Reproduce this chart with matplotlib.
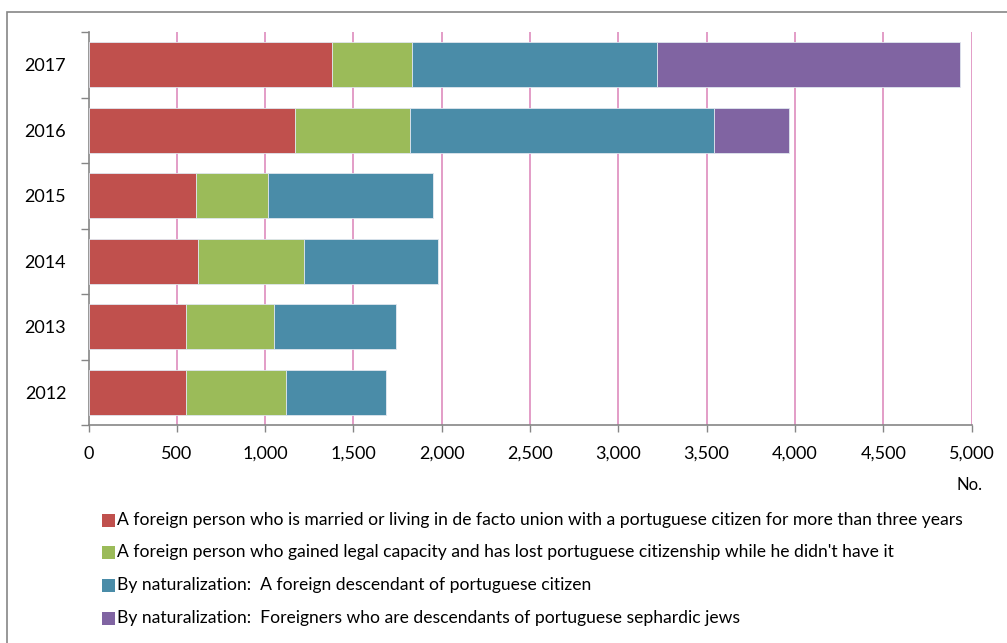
import matplotlib
matplotlib.use("Agg")
import matplotlib.pyplot as plt
from matplotlib.patches import Rectangle
import numpy as np

plt.rcParams['font.family'] = ['Lato', 'DejaVu Sans']

years = ['2012', '2013', '2014', '2015', '2016', '2017']
married = [553, 553, 621, 609, 1171, 1380]
legal_capacity = [565, 499, 601, 405, 650, 450]
descendant = [567, 689, 759, 935, 1721, 1389]
sephardic = [0, 0, 0, 0, 424, 1714]

series = [married, legal_capacity, descendant, sephardic]
labels = [
    "A foreign person who is married or living in de facto union with a portuguese citizen for more than three years",
    "A foreign person who gained legal capacity and has lost portuguese citizenship while he didn't have it",
    "By naturalization:  A foreign descendant of portuguese citizen",
    "By naturalization:  Foreigners who are descendants of portuguese sephardic jews",
]
colors = ['#C0504D', '#9BBB59', '#4A8CA8', '#8064A2']
xticks = [0, 500, 1000, 1500, 2000, 2500, 3000, 3500, 4000, 4500, 5000]

W, H = 1007, 643
fig = plt.figure(figsize=(W / 100, H / 100), dpi=100)
ax = fig.add_axes([88.5 / W, (H - 425) / H, (971.5 - 88.5) / W, (425 - 32) / H])

y = np.arange(len(years))
left = np.zeros(len(years))
for vals, col in zip(series, colors):
    vals = np.array(vals, dtype=float)
    ax.barh(y, vals, left=left, height=0.68, color=col,
            edgecolor='#dfe6ee', linewidth=0.6, zorder=3)
    left += vals

ax.set_xlim(0, 5000)
ax.set_ylim(-0.5, len(years) - 0.5)

# pink vertical gridlines
for xv in xticks[1:]:
    ax.axvline(xv, color='#DE8CBE', lw=1.2, zorder=1)

ax.set_xticks(xticks)
ax.set_xticklabels([f"{v:,}" for v in xticks], fontsize=13)
ax.tick_params(axis='x', direction='out', length=5, width=1, color='#868686', pad=10)

ax.set_yticks(y)
ax.set_yticklabels(years, fontsize=13)
ax.tick_params(axis='y', length=0, pad=16)
# category separator ticks on the y axis
ax.set_yticks(np.arange(-0.5, len(years)), minor=True)
ax.tick_params(axis='y', which='minor', direction='out', length=6, width=1, color='#868686')

for s in ['top', 'right']:
    ax.spines[s].set_visible(False)
for s in ['left', 'bottom']:
    ax.spines[s].set_color('#868686')
    ax.spines[s].set_linewidth(1.2)

fig.text(969 / W, 1 - 485 / H, 'No.', ha='center', va='center', fontsize=12)

# legend rows
row_y = [520, 552.5, 585, 618]
for lab, col, ry in zip(labels, colors, row_y):
    fig.patches.append(Rectangle((102 / W, 1 - (ry + 6.5) / H), 13 / W, 13 / H,
                                 transform=fig.transFigure, facecolor=col,
                                 edgecolor='none'))
    fig.text(117 / W, 1 - ry / H, lab, ha='left', va='center', fontsize=12.6)

# chart frame
fig.patches.append(Rectangle((7 / W, -0.05), 1.1, 1 - 12 / H + 0.05,
                             transform=fig.transFigure, facecolor='none',
                             edgecolor='#868686', linewidth=1.2))

fig.savefig('out.png', dpi=100)
